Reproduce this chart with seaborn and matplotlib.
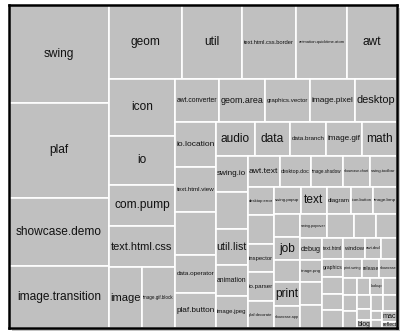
import matplotlib
matplotlib.use("Agg")
import matplotlib.pyplot as plt
from matplotlib.patches import Rectangle
import seaborn as sns

# package names (blank string = cell without a label) and their sizes
labels = [
    "swing", "plaf", "showcase.demo", "image.transition",
    "geom", "util", "text.html.css.border", "animation.quicktime.atom", "awt",
    "icon", "io", "com.pump", "text.html.css", "image", "image.gif.block",
    "awt.converter", "geom.area", "graphics.vector", "image.pixel", "desktop",
    "io.location", "text.html.view", "", "data.operator", "plaf.button",
    "audio", "data", "data.branch", "image.gif", "math",
    "swing.io", "", "util.list", "animation", "image.jpeg",
    "awt.text", "desktop.doc", "image.shadow", "showcase.chart", "swing.toolbar",
    "desktop.error", "", "inspector", "io.parser", "plaf.decorate",
    "swing.popup", "text", "diagram", "icon.button", "image.bmp",
    "", "job", "", "print", "showcase.app",
    "swing.popover", "", "", "",
    "debug", "image.png", "", "",
    "text.html", "window", "awt.dnd", "",
    "graphics", "", "", "",
    "print.swing", "release", "showcase",
    "", "", "",
    "", "lookup", "",
    "", "", "blog",
    "", "",
    "", "",
    "mac", "reflect",
]
sizes = [
    9800, 9500, 6800, 6200,
    5400, 4440, 4000, 3770, 3700,
    3760, 3230, 2710, 2710, 2010, 2010,
    1890, 1980, 1935, 1935, 1805,
    1845, 1845, 1765, 1560, 1435,
    1325, 1190, 1225, 1225, 1190,
    1150, 1185, 1150, 990, 1025,
    990, 960, 990, 840, 840,
    730, 755, 730, 755, 700,
    730, 700, 650, 595, 650,
    600, 600, 570, 625, 570,
    650, 650, 530, 505,
    485, 485, 505, 505,
    440, 460, 335, 335,
    380, 355, 335, 380,
    360, 325, 340,
    240, 225, 240,
    220, 220, 240,
    195, 155, 110,
    190, 225,
    100, 90,
    165, 90,
]
# strips alternate column / row; each entry = packages sharing one slot
strip_slots = [
    [1] * 4, [1] * 5, [1, 1, 1, 1, 2], [1] * 5, [1] * 5, [1] * 5,
    [1] * 5, [1] * 5, [1] * 5, [1] * 5, [1] * 5, [1] * 4, [1] * 4,
    [1] * 4, [1] * 4, [1] * 3, [1] * 3, [1] * 3, [1] * 3, [1] * 2,
    [1] * 2, [2],
]

sns.set_theme(style="white")
plt.rcParams["font.family"] = ["Liberation Sans", "DejaVu Sans"]

fig = plt.figure(figsize=(4.07, 3.35), dpi=100)
pos = [0.022, 0.021, 0.953, 0.964]
ax = fig.add_axes(pos)

# drop shadow behind the frame
fig.patches.append(Rectangle((pos[0] + 3 / 407, pos[1] - 3 / 335), pos[2], pos[3],
                             transform=fig.transFigure, facecolor="#c4c4c4",
                             edgecolor="none", zorder=-1))

bbox = ax.get_window_extent()
W, H = bbox.width, bbox.height
ax.set_xlim(0, W)
ax.set_ylim(H, 0)

# strip layout
rem_total = float(sum(sizes))
x0, y0, w, h = 0.0, 0.0, W, H
k = 0
cells = []
for i, slots in enumerate(strip_slots):
    n = sum(slots)
    strip_total = sum(sizes[k:k + n])
    if i % 2 == 0:
        sw = w * strip_total / rem_total
        cy = y0
        for m in slots:
            slot_total = sum(sizes[k:k + m])
            sh = h * slot_total / strip_total
            cx = x0
            for j in range(m):
                cw = sw * sizes[k] / slot_total
                cells.append((cx, cy, cw, sh, k))
                cx += cw
                k += 1
            cy += sh
        x0 += sw
        w -= sw
    else:
        sh = h * strip_total / rem_total
        cx = x0
        for m in slots:
            slot_total = sum(sizes[k:k + m])
            cw = w * slot_total / strip_total
            cy = y0
            for j in range(m):
                ch = sh * sizes[k] / slot_total
                cells.append((cx, cy, cw, ch, k))
                cy += ch
                k += 1
            cx += cw
        y0 += sh
        h -= sh
    rem_total -= strip_total

renderer = fig.canvas.get_renderer()
max_fs = 8.6
for cx, cy, cw, ch, idx in cells:
    ax.add_patch(Rectangle((cx, cy), cw, ch, facecolor="#c0c0c0",
                           edgecolor="white", linewidth=1.2))
    if labels[idx]:
        t = ax.text(cx + cw / 2, cy + ch / 2, labels[idx], ha="center",
                    va="center", fontsize=max_fs, color="#111111")
        tw = t.get_window_extent(renderer).width
        if tw > 0.92 * cw:
            t.set_fontsize(max_fs * 0.92 * cw / tw)

ax.set_xticks([])
ax.set_yticks([])
for s in ax.spines.values():
    s.set_color("black")
    s.set_linewidth(1.8)

fig.savefig("out.png", dpi=100)
